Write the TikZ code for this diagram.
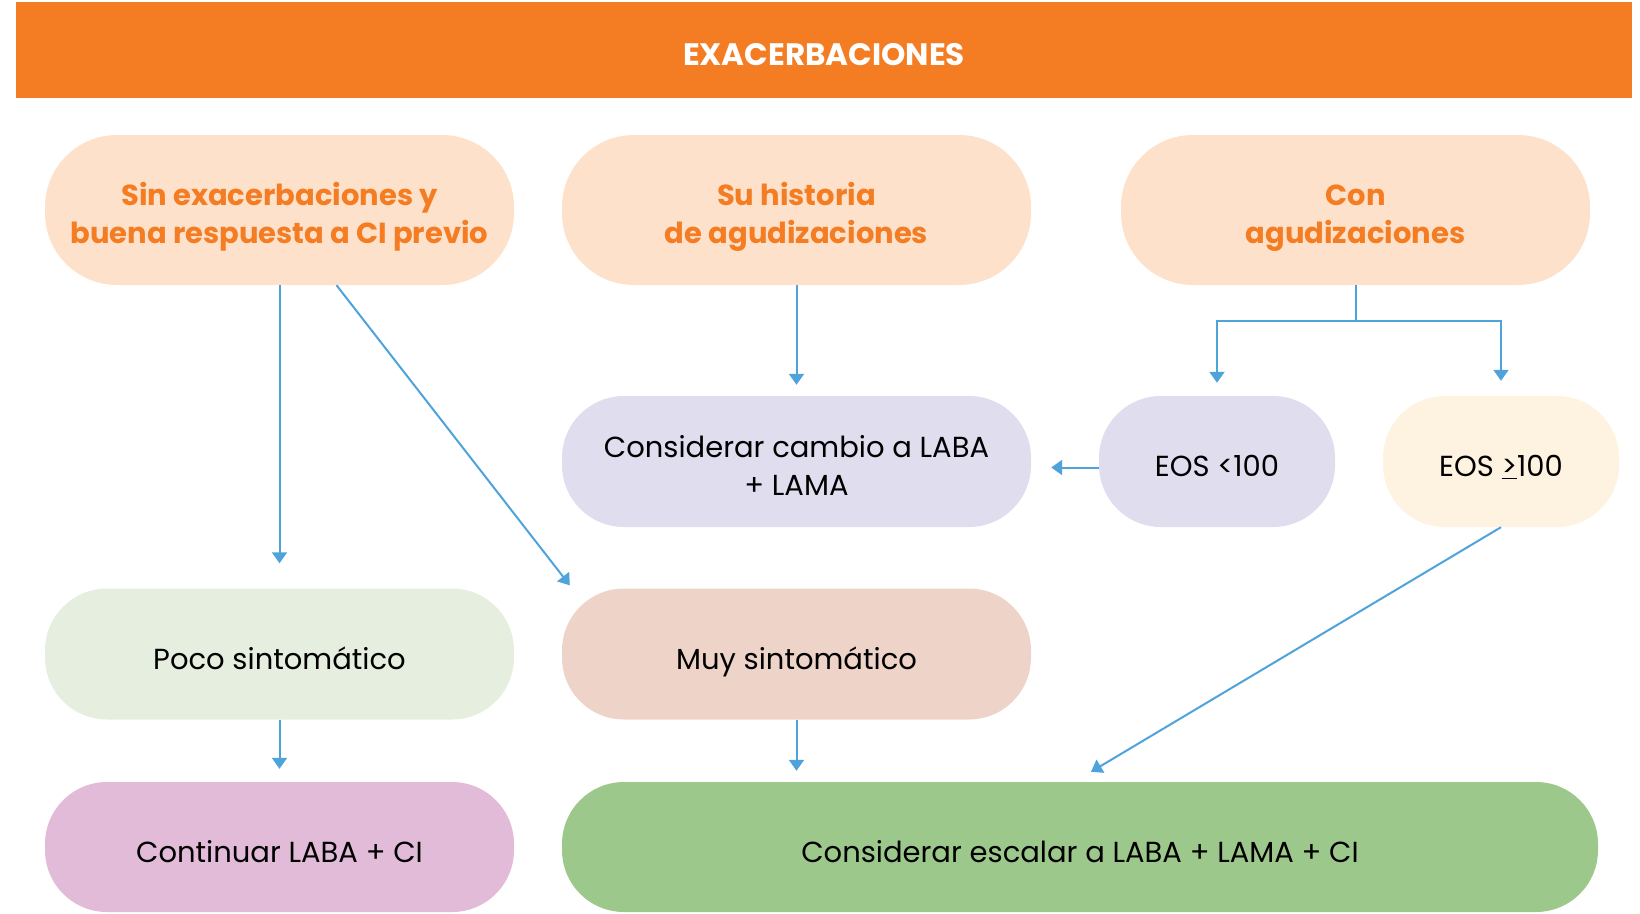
\documentclass[tikz,border=0pt]{standalone}
\usepackage{fontspec}
\setmainfont{Poppins}
\usetikzlibrary{arrows.meta}
\definecolor{naranja}{HTML}{F47D24}
\definecolor{melocoton}{HTML}{FDE1CA}
\definecolor{lavanda}{HTML}{E0DDEE}
\definecolor{crema}{HTML}{FEF3E0}
\definecolor{verdeclaro}{HTML}{E6EEDF}
\definecolor{rosado}{HTML}{EED4C8}
\definecolor{malva}{HTML}{E1BBD7}
\definecolor{verde}{HTML}{9DC88C}
\definecolor{azul}{HTML}{4EA3DB}
\newcommand{\puntal}{\rule[-10pt]{0pt}{50pt}}
\newcommand{\puntaldoble}{\rule[-10pt]{0pt}{87pt}}

\begin{document}
\begin{tikzpicture}[x=1pt, y=-1pt,
    pill/.style={rectangle, rounded corners=62pt, minimum width=469pt, minimum height=131pt,
      inner sep=0pt, align=center, font=\fontsize{29}{38}\selectfont,
      execute at begin node=\puntal, execute at end node=\puntal},
    doble/.style={execute at begin node=\puntaldoble},
    cabeza/.style={pill, doble, rounded corners=72pt, minimum height=150pt, fill=melocoton,
      text=naranja, font=\fontsize{29}{38}\selectfont\bfseries},
    eos/.style={pill, minimum width=236pt},
    flecha/.style={-{Triangle[width=15pt,length=11pt]}, line width=2pt, draw=azul}]
    \useasboundingbox (0,0) rectangle (1640,913);

    \node [fill=naranja, minimum width=1616pt, minimum height=96pt, inner sep=0pt, text=white,
      text height=30pt, text depth=0pt,
      font=\fontsize{31}{36}\selectfont\bfseries] (titulo) at (824, 50) {EXACERBACIONES};

    \node [cabeza] (sin) at (279.5, 210) {Sin exacerbaciones y\\buena respuesta a CI previo};
    \node [cabeza] (su) at (796.5, 210) {Su historia\\de agudizaciones};
    \node [cabeza] (con) at (1355.5, 210) {Con\\agudizaciones};

    \node [pill, doble, fill=lavanda] (cambio) at (796.5, 461.5) {Considerar cambio a LABA\\+ LAMA};
    \node [eos, fill=lavanda] (eosbajo) at (1217, 461.5) {EOS <100};
    \node [eos, fill=crema] (eosalto) at (1501, 461.5) {EOS \underline{>}100};

    \node [pill, fill=verdeclaro] (poco) at (279.5, 654) {Poco sintomático};
    \node [pill, fill=rosado] (muy) at (796.5, 654) {Muy sintomático};

    \node [pill, fill=malva, minimum height=130pt] (continuar) at (279.5, 847) {Continuar LABA + CI};
    \node [pill, fill=verde, minimum width=1036pt, minimum height=130pt] (escalar) at (1080, 847)
      {Considerar escalar a LABA + LAMA + CI};

    \draw [flecha, shorten >=25pt] (sin.south) -- (sin.south |- poco.north);
    \draw [flecha] ([xshift=57pt]sin.south) -- ([xshift=8pt,yshift=3pt]muy.north west);
    \draw [flecha, shorten >=11pt] (su.south) -- (cambio.north);
    \coordinate (rama) at (1355.5, 321);
    \draw [flecha, shorten >=13pt] (con.south) -- (rama) -| (eosbajo.north);
    \draw [flecha, shorten >=15pt] (rama) -| (eosalto.north);
    \draw [flecha, shorten >=20pt] ([yshift=-6pt]eosbajo.west) -- ([yshift=-6pt]eosbajo.west -| cambio.east);
    \draw [flecha] (eosalto.south) -- ([xshift=11pt,yshift=10pt]escalar.north);
    \draw [flecha, shorten >=13pt] (poco.south) -- (continuar.north);
    \draw [flecha, shorten >=11pt] (muy.south) -- (muy.south |- escalar.north);
  \end{tikzpicture}
\end{document}
